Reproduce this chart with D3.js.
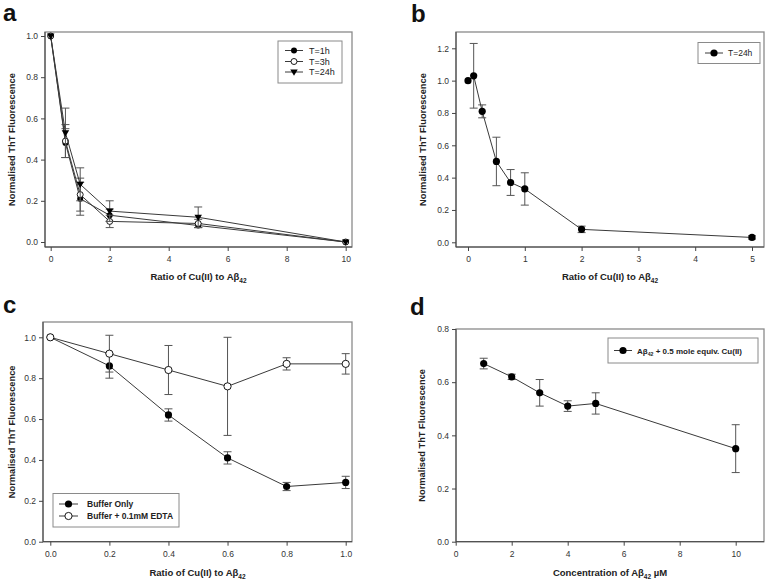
<!DOCTYPE html>
<html><head><meta charset="utf-8">
<script src="https://cdn.jsdelivr.net/npm/d3@7/dist/d3.min.js"></script>
<style>body{margin:0;background:#fff}svg{display:block}</style>
</head><body>
<svg id="c" width="769" height="584"></svg>
<script>
// ---- Panel a ----
const aX = [0, 0.5, 1, 2, 5, 10];
const a1h = [1.0, 0.48, 0.21, 0.13, 0.08, 0.0];
const a1hErr = [0, 0.07, 0.08, 0.03, 0.01, 0];
const a3h = [1.0, 0.49, 0.23, 0.10, 0.09, 0.0];
const a3hErr = [0, 0.08, 0.08, 0.03, 0.02, 0];
const a24h = [1.0, 0.53, 0.28, 0.15, 0.12, 0.0];
const a24hErr = [0, 0.12, 0.08, 0.05, 0.05, 0];
const aXTicks = [0, 2, 4, 6, 8, 10];
const aYTicks = [0, 0.2, 0.4, 0.6, 0.8, 1.0];
// ---- Panel b ----
const bX = [0, 0.1, 0.25, 0.5, 0.75, 1, 2, 5];
const b24h = [1.0, 1.03, 0.81, 0.50, 0.37, 0.33, 0.08, 0.03];
const b24hErr = [0, 0.20, 0.04, 0.15, 0.08, 0.10, 0.02, 0.01];
const bXTicks = [0, 1, 2, 3, 4, 5];
const bYTicks = [0, 0.2, 0.4, 0.6, 0.8, 1.0, 1.2];
// ---- Panel c ----
const cX = [0, 0.2, 0.4, 0.6, 0.8, 1.0];
const cBuffer = [1.0, 0.86, 0.62, 0.41, 0.27, 0.29];
const cBufferErr = [0, 0.06, 0.03, 0.03, 0.02, 0.03];
const cEDTA = [1.0, 0.92, 0.84, 0.76, 0.87, 0.87];
const cEDTAErr = [0, 0.09, 0.12, 0.24, 0.03, 0.05];
const cXTicks = [0, 0.2, 0.4, 0.6, 0.8, 1.0];
const cYTicks = [0, 0.2, 0.4, 0.6, 0.8, 1.0];
// ---- Panel d ----
const dX = [1, 2, 3, 4, 5, 10];
const dY = [0.67, 0.62, 0.56, 0.51, 0.52, 0.35];
const dErr = [0.02, 0.01, 0.05, 0.02, 0.04, 0.09];
const dXTicks = [0, 2, 4, 6, 8, 10];
const dYTicks = [0, 0.2, 0.4, 0.6, 0.8];

const svg = d3.select('#c');
const FONT = 'Liberation Sans, Arial, sans-serif';
const LINE = '#3a3a3a', FRAME = '#8a8a8a', ERR = '#555';

function panel(o) {
  const g = svg.append('g');
  const x = d3.scaleLinear().domain(o.xd).range(o.xr);
  const y = d3.scaleLinear().domain(o.yd).range(o.yr);
  const f = o.frame; // [x0,y0,x1,y1]
  g.append('rect').attr('x', f[0]).attr('y', f[1]).attr('width', f[2]-f[0]).attr('height', f[3]-f[1])
    .attr('fill', 'none').attr('stroke', FRAME).attr('stroke-width', 1.3);
  // y axis
  const ya = g.append('g').attr('transform', `translate(${f[0]},0)`)
    .call(d3.axisLeft(y).tickValues(o.yt).tickFormat(d3.format('.1f')).tickSize(4).tickPadding(3));
  ya.select('.domain').attr('stroke', '#444').attr('d', `M0,${f[1]}V${f[3]}`);
  // x axis
  const xa = g.append('g').attr('transform', `translate(0,${f[3]})`)
    .call(d3.axisBottom(x).tickValues(o.xt).tickFormat(o.xf).tickSize(4).tickPadding(5));
  xa.select('.domain').attr('stroke', '#444').attr('d', `M${f[0]},0H${f[2]}`);
  [ya, xa].forEach(a => {
    a.selectAll('.tick line').attr('stroke', '#444');
    a.selectAll('text').attr('font-family', FONT).attr('font-size', 8.5).attr('fill', '#333');
  });
  // axis titles
  g.append('text').attr('transform', `translate(${o.ytx},${(f[1]+f[3])/2}) rotate(-90)`)
    .attr('text-anchor', 'middle').attr('font-family', FONT).attr('font-weight', 'bold')
    .attr('font-size', 9.3).attr('fill', '#222').text('Normalised ThT Fluorescence');
  const xt = g.append('text').attr('x', (f[0]+f[2])/2 + (o.xtdx||0)).attr('y', o.xty)
    .attr('text-anchor', 'middle').attr('font-family', FONT).attr('font-weight', 'bold')
    .attr('font-size', 9.5).attr('fill', '#222');
  xt.append('tspan').text(o.xtitle[0]);
  xt.append('tspan').attr('font-size', 6.5).attr('dy', 2.5).text('42');
  if (o.xtitle[1]) xt.append('tspan').attr('dy', -2.5).text(o.xtitle[1]);
  // panel letter
  g.append('text').attr('x', o.letter[1]).attr('y', o.letter[2]).attr('font-family', FONT)
    .attr('font-weight', 'bold').attr('font-size', 24).attr('fill', '#111').text(o.letter[0]);
  // series
  o.series.forEach(s => {
    const pts = s.x.map((xv, i) => ({x: xv, y: s.y[i], e: s.e[i]}));
    pts.filter(p => p.e > 0).forEach(p => {
      const px = x(p.x), y0 = y(p.y - p.e), y1 = y(p.y + p.e);
      g.append('path').attr('d', `M${px},${y0}V${y1}M${px-4},${y0}H${px+4}M${px-4},${y1}H${px+4}`)
        .attr('stroke', ERR).attr('stroke-width', 1).attr('fill', 'none');
    });
    g.append('path').datum(pts).attr('d', d3.line().x(p => x(p.x)).y(p => y(p.y)))
      .attr('fill', 'none').attr('stroke', LINE).attr('stroke-width', 1);
    pts.forEach(p => marker(g, s.m, x(p.x), y(p.y), o.r));
  });
  // legend
  const L = o.legend;
  g.append('rect').attr('x', L.box[0]).attr('y', L.box[1]).attr('width', L.box[2]-L.box[0])
    .attr('height', L.box[3]-L.box[1]).attr('fill', '#fff').attr('stroke', FRAME).attr('stroke-width', 1);
  L.items.forEach((it, i) => {
    const ry = L.rows[i];
    g.append('line').attr('x1', L.lx[0]).attr('x2', L.lx[1]).attr('y1', ry).attr('y2', ry)
      .attr('stroke', LINE).attr('stroke-width', 1);
    marker(g, it.m, (L.lx[0]+L.lx[1])/2, ry, o.r);
    const t = g.append('text').attr('x', L.tx).attr('y', ry + 3.2).attr('font-family', FONT)
      .attr('font-weight', L.bold ? 'bold' : 'normal').attr('font-size', L.fs).attr('fill', '#222');
    if (it.sub) {
      t.append('tspan').text(it.label[0]);
      t.append('tspan').attr('font-size', L.fs*0.65).attr('dy', 2).text('42');
      t.append('tspan').attr('dy', -2).text(it.label[1]);
    } else t.text(it.label);
  });
}

function marker(g, m, cx, cy, r) {
  if (m === 'filled') g.append('circle').attr('cx', cx).attr('cy', cy).attr('r', r).attr('fill', '#000');
  else if (m === 'open') g.append('circle').attr('cx', cx).attr('cy', cy).attr('r', r)
    .attr('fill', '#fff').attr('stroke', '#000').attr('stroke-width', 0.9);
  else if (m === 'tri') {
    const s = r * 1.25;
    g.append('path').attr('d', `M${cx-s},${cy-s*0.7}L${cx+s},${cy-s*0.7}L${cx},${cy+s*1.0}Z`).attr('fill', '#000');
  }
}

const fmt0 = d3.format('d'), fmt1 = d3.format('.1f');

panel({
  xd: [0, 10], xr: [50.7, 345.7], yd: [0, 1], yr: [242, 36], frame: [45, 32, 352, 247],
  xt: aXTicks, yt: aYTicks, xf: fmt0, ytx: 15, xty: 280, xtdx: 0,
  xtitle: ['Ratio of Cu(II) to A\u03b2'], letter: ['a', 3, 21], r: 3,
  series: [
    {x: aX, y: a1h, e: a1hErr, m: 'filled'},
    {x: aX, y: a3h, e: a3hErr, m: 'open'},
    {x: aX, y: a24h, e: a24hErr, m: 'tri'}
  ],
  legend: {box: [278, 41, 342, 83], rows: [50.5, 61.5, 72], lx: [285, 303], tx: 309, fs: 9, bold: false,
    items: [{m: 'filled', label: 'T=1h'}, {m: 'open', label: 'T=3h'}, {m: 'tri', label: 'T=24h'}]}
});

panel({
  xd: [0, 5], xr: [468, 752], yd: [0, 1.2], yr: [242.3, 48.3], frame: [456, 32, 764, 247],
  xt: bXTicks, yt: bYTicks, xf: fmt0, ytx: 426, xty: 280, xtdx: 0,
  xtitle: ['Ratio of Cu(II) to A\u03b2'], letter: ['b', 411, 22], r: 3.6,
  series: [{x: bX, y: b24h, e: b24hErr, m: 'filled'}],
  legend: {box: [698, 42.5, 760, 63.5], rows: [53], lx: [705, 723], tx: 728, fs: 8.5, bold: false,
    items: [{m: 'filled', label: 'T=24h'}]}
});

panel({
  xd: [0, 1], xr: [50.3, 345.7], yd: [0, 1], yr: [541.7, 337.3], frame: [43, 322, 352, 541.7],
  xt: cXTicks, yt: cYTicks, xf: fmt1, ytx: 15, xty: 576, xtdx: 0,
  xtitle: ['Ratio of Cu(II) to A\u03b2'], letter: ['c', 3, 313], r: 3.6,
  series: [
    {x: cX, y: cBuffer, e: cBufferErr, m: 'filled'},
    {x: cX, y: cEDTA, e: cEDTAErr, m: 'open'}
  ],
  legend: {box: [53, 493.5, 179, 527], rows: [504, 516], lx: [59, 78], tx: 87, fs: 8.5, bold: true,
    items: [{m: 'filled', label: 'Buffer Only'}, {m: 'open', label: 'Buffer + 0.1mM EDTA'}]}
});

panel({
  xd: [0, 10], xr: [455.7, 735.7], yd: [0, 0.8], yr: [541.7, 329], frame: [456, 329, 764, 541.7],
  xt: dXTicks, yt: dYTicks, xf: fmt0, ytx: 425, xty: 576, xtdx: 0,
  xtitle: ['Concentration of A\u03b2', ' \u00b5M'], letter: ['d', 410, 315], r: 3.6,
  series: [{x: dX, y: dY, e: dErr, m: 'filled'}],
  legend: {box: [608, 338, 758, 363], rows: [350.5], lx: [614, 632], tx: 637, fs: 8, bold: true,
    items: [{m: 'filled', label: ['A\u03b2', ' + 0.5 mole equiv. Cu(II)'], sub: true}]}
});
</script>
</body></html>
